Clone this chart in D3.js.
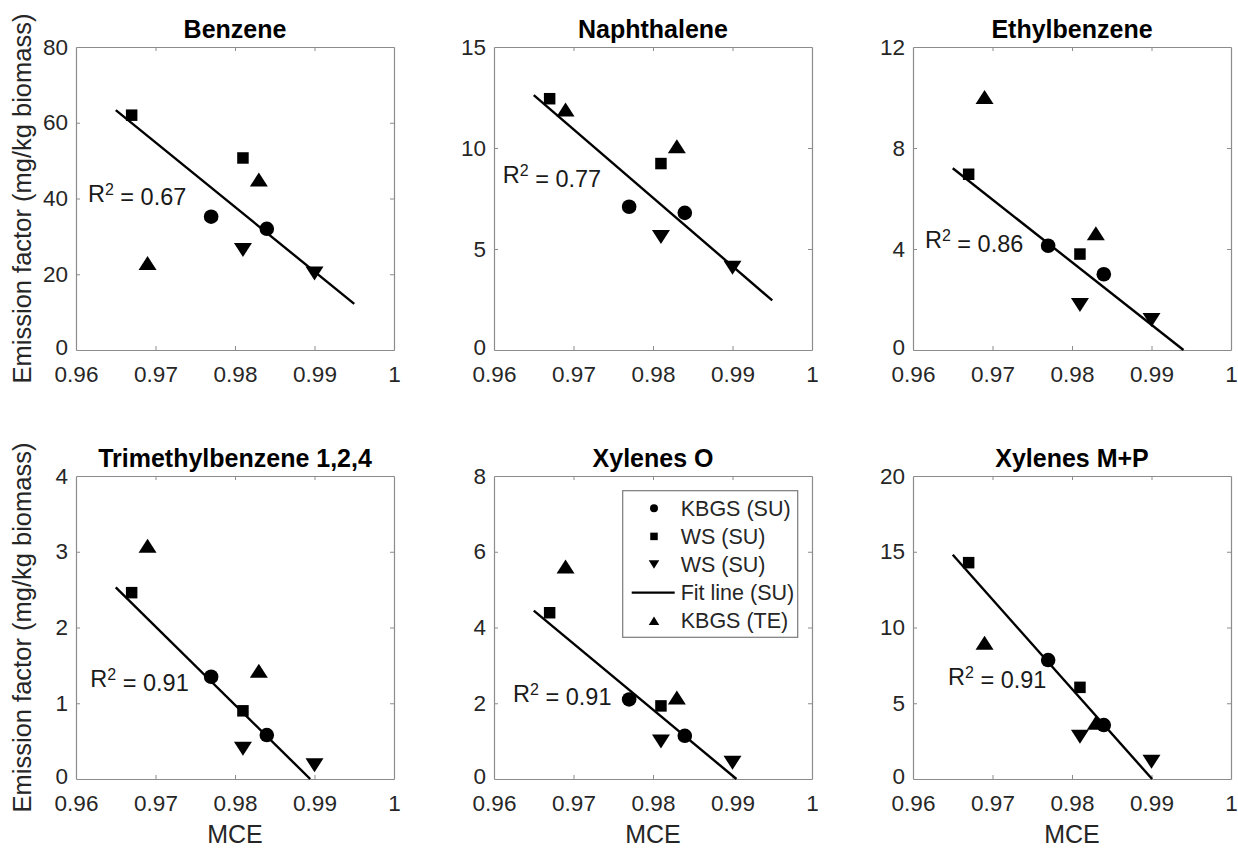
<!DOCTYPE html>
<html>
<head>
<meta charset="utf-8">
<script src="https://cdn.jsdelivr.net/npm/d3@7"></script>
<style>
  html, body { margin: 0; padding: 0; background: #fff; }
  svg { display: block; }
  text { font-family: "Liberation Sans", Arial, Helvetica, sans-serif; }
</style>
</head>
<body>
<svg id="chart" width="1238" height="848"></svg>
<script>
// Emission factors vs. modified combustion efficiency (MCE), six compounds.
const compounds = ["Benzene", "Naphthalene", "Ethylbenzene",
                   "Trimethylbenzene 1,2,4", "Xylenes O", "Xylenes M+P"];

// MCE of each burn, per series
const mceKbgsSU = [0.977, 0.984];
const mceWsSUsq = [0.967, 0.981];
const mceWsSUdn = [0.981, 0.990];
const mceKbgsTE = [0.969, 0.983];

// Emission factors (mg/kg biomass), one pair per compound
const efKbgsSU = [[35.2, 32.0], [7.09, 6.79], [4.13, 3.00], [1.35, 0.58], [2.10, 1.14], [7.85, 3.56]];
const efWsSUsq = [[62.0, 50.7], [12.44, 9.23], [6.96, 3.80], [2.46, 0.90], [4.39, 1.93], [14.28, 6.05]];
const efWsSUdn = [[26.4, 20.2], [5.60, 4.07], [1.78, 1.19], [0.40, 0.18], [0.99, 0.43], [2.79, 1.14]];
const efKbgsTE = [[23.0, 45.0], [11.9, 10.09], [10.02, 4.62], [3.08, 1.43], [5.61, 2.15], [9.0, 3.72]];

// Axis ranges and ticks
const xTicks = [0.96, 0.97, 0.98, 0.99, 1];
const yMax = [80, 15, 12, 4, 8, 20];
const yStep = [20, 5, 4, 1, 2, 5];

// Regression summary text and where it sits (data units: MCE, EF baseline)
const r2Text = ["0.67", "0.77", "0.86", "0.91", "0.91", "0.91"];
const r2AtX = [0.9615, 0.9611, 0.9615, 0.9618, 0.9624, 0.9644];
const r2AtY = [39.1, 8.25, 4.03, 1.21, 2.04, 6.2];

// The fit is drawn over this MCE span
const fitSpan = [0.965, 0.995];

const legendLabels = ["KBGS (SU)", "WS (SU)", "WS (SU)", "Fit line (SU)", "KBGS (TE)"];

// ---- layout ----
const colX = [76, 494, 913];
const rowY = [47, 476];
const pw = 318, ph = 303;
const axisGray = "#8c8c8c";
const textGray = "#262626";

const svg = d3.select("#chart");

// marker shapes centred on (0,0)
function markerPath(kind, s) {
  if (kind === "circle") {
    return d3.symbol().type(d3.symbolCircle).size(Math.PI * s.r * s.r)();
  }
  if (kind === "square") {
    const h = s.sq / 2;
    return `M${-h},${-h}H${h}V${h}H${-h}Z`;
  }
  if (kind === "up") {
    const w = s.tw / 2, h = s.th / 2;
    return `M0,${-h}L${w},${h}L${-w},${h}Z`;
  }
  // down
  const w = s.tw / 2, h = s.th / 2;
  return `M0,${h}L${w},${-h}L${-w},${-h}Z`;
}
const bigMarker = { r: 7.3, sq: 11.5, tw: 18, th: 14 };
const smallMarker = { r: 4, sq: 7.5, tw: 10.5, th: 8.5 };

function linearFit(xs, ys) {
  const n = xs.length;
  const mx = d3.mean(xs), my = d3.mean(ys);
  let sxy = 0, sxx = 0;
  for (let i = 0; i < n; i++) {
    sxy += (xs[i] - mx) * (ys[i] - my);
    sxx += (xs[i] - mx) * (xs[i] - mx);
  }
  const b = sxy / sxx;
  return { b, a: my - b * mx };
}

compounds.forEach((name, i) => {
  const col = i % 3, row = Math.floor(i / 3);
  const g = svg.append("g").attr("transform", `translate(${colX[col]},${rowY[row]})`);

  const x = d3.scaleLinear().domain([0.96, 1]).range([0, pw]);
  const y = d3.scaleLinear().domain([0, yMax[i]]).range([ph, 0]);
  const yTicks = d3.range(0, yMax[i] + yStep[i] / 2, yStep[i]);

  // white plot area
  g.append("rect").attr("width", pw).attr("height", ph).attr("fill", "#fff");

  // axes with inward ticks on all four sides
  const fmtX = d => (d === 1 ? "1" : d3.format(".2f")(d));
  const bottom = g.append("g").attr("transform", `translate(0,${ph})`)
    .call(d3.axisBottom(x).tickValues(xTicks).tickFormat(fmtX).tickSizeInner(-4).tickSizeOuter(0).tickPadding(16));
  const top = g.append("g")
    .call(d3.axisTop(x).tickValues(xTicks).tickFormat("").tickSizeInner(-4).tickSizeOuter(0));
  const left = g.append("g")
    .call(d3.axisLeft(y).tickValues(yTicks).tickFormat(d3.format("d")).tickSizeInner(-4).tickSizeOuter(0).tickPadding(8));
  const right = g.append("g").attr("transform", `translate(${pw},0)`)
    .call(d3.axisRight(y).tickValues(yTicks).tickFormat("").tickSizeInner(-4).tickSizeOuter(0));

  [bottom, top, left, right].forEach(a => {
    a.select(".domain").attr("stroke", axisGray).attr("stroke-width", 1.2);
    a.selectAll(".tick line").attr("stroke", axisGray).attr("stroke-width", 1);
    a.selectAll(".tick text").attr("fill", textGray).style("font-size", "22.5px")
      .style("font-family", '"Liberation Sans", Arial, Helvetica, sans-serif');
  });
  // the lowest y label sits a touch high so it clears the x labels below
  left.selectAll(".tick text").filter(d => d === 0).attr("dy", "0.2em");
  // hide ticks sitting on the box corners
  [bottom, top].forEach(a => a.selectAll(".tick line").filter(d => d === 0.96 || d === 1).remove());
  [left, right].forEach(a => a.selectAll(".tick line").filter(d => d === 0 || d === yMax[i]).remove());

  // title
  g.append("text").attr("x", pw / 2).attr("y", -9).attr("text-anchor", "middle")
    .style("font-size", "25px").style("font-weight", "bold").attr("fill", "#000").text(name);

  // fit line from the SU burns, clipped to the plot box
  const fx = mceKbgsSU.concat(mceWsSUsq, mceWsSUdn);
  const fy = efKbgsSU[i].concat(efWsSUsq[i], efWsSUdn[i]);
  const fit = linearFit(fx, fy);
  let x0 = fitSpan[0], x1 = fitSpan[1];
  const y0 = fit.a + fit.b * x0;
  let y1 = fit.a + fit.b * x1;
  if (y1 < 0) { x1 = -fit.a / fit.b; y1 = 0; }

  const series = [
    { kind: "circle", xs: mceKbgsSU, ys: efKbgsSU[i] },
    { kind: "square", xs: mceWsSUsq, ys: efWsSUsq[i] },
    { kind: "down", xs: mceWsSUdn, ys: efWsSUdn[i] }
  ];
  series.forEach(s => {
    g.selectAll(null).data(s.xs.map((v, k) => [v, s.ys[k]])).join("path")
      .attr("d", markerPath(s.kind, bigMarker))
      .attr("transform", d => `translate(${x(d[0])},${y(d[1])})`)
      .attr("fill", "#000");
  });

  g.append("line")
    .attr("x1", x(x0)).attr("y1", y(y0)).attr("x2", x(x1)).attr("y2", y(y1))
    .attr("stroke", "#000").attr("stroke-width", 2.4);

  g.selectAll(null).data(mceKbgsTE.map((v, k) => [v, efKbgsTE[i][k]])).join("path")
    .attr("d", markerPath("up", bigMarker))
    .attr("transform", d => `translate(${x(d[0])},${y(d[1])})`)
    .attr("fill", "#000");

  // R² annotation
  const t = g.append("text").attr("x", x(r2AtX[i])).attr("y", y(r2AtY[i]))
    .style("font-size", "23.5px").attr("fill", "#1a1a1a");
  t.append("tspan").text("R");
  t.append("tspan").attr("dy", "-0.45em").style("font-size", "16px").text("2");
  t.append("tspan").attr("dy", "0.45em").text("\u00a0= " + r2Text[i]);

  // axis labels
  if (col === 0) {
    g.append("text").attr("transform", `translate(${31 - colX[0]},${ph / 2}) rotate(-90)`)
      .attr("text-anchor", "middle").style("font-size", "25.5px").attr("fill", textGray)
      .text("Emission factor (mg/kg biomass)");
  }
  if (row === 1) {
    g.append("text").attr("x", pw / 2).attr("y", ph + 64).attr("text-anchor", "middle")
      .style("font-size", "25px").attr("fill", textGray).text("MCE");
  }

  // legend in the Xylenes O panel
  if (name === "Xylenes O") {
    const lg = g.append("g").attr("transform", `translate(${622.7 - colX[1]},${490.7 - rowY[1]})`);
    lg.append("rect").attr("width", 175).attr("height", 146.6)
      .attr("fill", "#fff").attr("stroke", "#7a7a7a").attr("stroke-width", 1.2);
    const kinds = ["circle", "square", "down", "line", "up"];
    kinds.forEach((k, j) => {
      const cy = 17.6 + j * 28.1;
      if (k === "line") {
        lg.append("line").attr("x1", 9).attr("x2", 52).attr("y1", cy).attr("y2", cy)
          .attr("stroke", "#000").attr("stroke-width", 2.4);
      } else {
        lg.append("path").attr("d", markerPath(k, smallMarker))
          .attr("transform", `translate(31.3,${cy})`).attr("fill", "#000");
      }
      lg.append("text").attr("x", 58).attr("y", cy).attr("dy", "0.36em")
        .style("font-size", "21.5px").attr("fill", textGray).text(legendLabels[j]);
    });
  }
});
</script>
</body>
</html>
